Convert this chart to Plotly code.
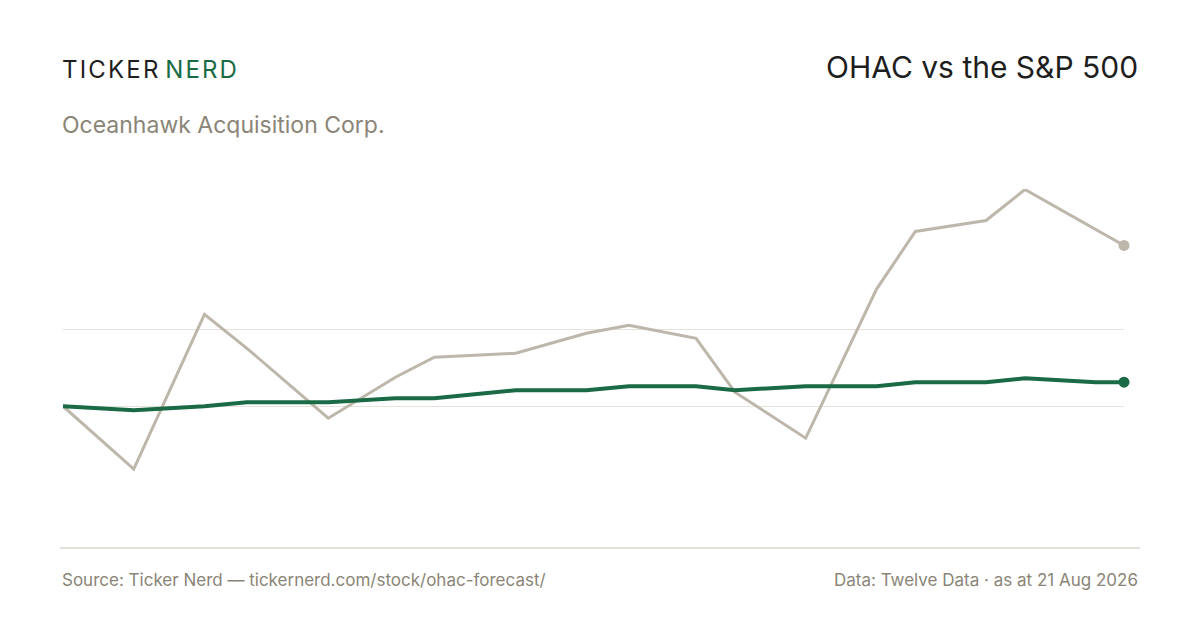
import plotly.graph_objects as go

# approximate day offsets and % returns
days = [0, 2, 4, 5.2, 7.5, 9.4, 10.5, 12.8, 14.8, 16, 17.9, 19, 21, 23, 24.1, 26.1, 27.2, 29.2, 30]
ohac = [0, -6.3, 9.2, 5.8, -1.2, 2.9, 4.9, 5.3, 7.3, 8.1, 6.8, 1.4, -3.2, 11.7, 17.5, 18.6, 21.7, 17.7, 16.1]
spx = [0, -0.4, 0, 0.4, 0.4, 0.8, 0.8, 1.6, 1.6, 2.0, 2.0, 1.6, 2.0, 2.0, 2.4, 2.4, 2.8, 2.4, 2.4]
grid_vals = [0, 7.7, 21.7]

GREEN = "#1a6b45"
GREY = "#bdb6aa"
FONT = "Inter, Roboto, sans-serif"

fig = go.Figure()
fig.add_trace(go.Scatter(x=days, y=ohac, mode="lines", line=dict(color=GREY, width=3),
                         cliponaxis=False, hoverinfo="skip"))
fig.add_trace(go.Scatter(x=[days[-1]], y=[ohac[-1]], mode="markers", marker=dict(color=GREY, size=11),
                         cliponaxis=False, hoverinfo="skip"))
fig.add_trace(go.Scatter(x=days, y=spx, mode="lines", line=dict(color=GREEN, width=4),
                         cliponaxis=False, hoverinfo="skip"))
fig.add_trace(go.Scatter(x=[days[-1]], y=[spx[-1]], mode="markers", marker=dict(color=GREEN, size=11),
                         cliponaxis=False, hoverinfo="skip"))

fig.update_layout(
    width=1200, height=630, showlegend=False,
    paper_bgcolor="white", plot_bgcolor="white",
    margin=dict(l=55, r=84, t=181, b=90),
    font=dict(family=FONT),
    xaxis=dict(range=[0, 30], visible=False),
    yaxis=dict(range=[-14.2, 21.75], tickvals=grid_vals, showticklabels=False,
               gridcolor="#e6e3dd", gridwidth=1, zeroline=False),
)
fig.add_shape(type="line", xref="paper", yref="paper", x0=-0.0028, x1=1.015, y0=0, y1=0,
              line=dict(color="#d8d4cc", width=1.5))

hs = "\u200a"
logo = hs.join("TICKER") + " " + "<span style='color:%s'>%s</span>" % (GREEN, hs.join("NERD"))
fig.add_annotation(text=logo, xref="paper", yref="paper",
                   x=-0.003, xanchor="left", y=(548 - 70) / 359, yanchor="middle",
                   showarrow=False, font=dict(size=24, color="#1e1e1e", family=FONT))
fig.add_annotation(text="OHAC vs the S&P 500", xref="paper", yref="paper",
                   x=1.015, xanchor="right", y=(548 - 67) / 359, yanchor="middle",
                   showarrow=False, font=dict(size=30, color="#1e1e1e", family=FONT))
fig.add_annotation(text="Oceanhawk Acquisition Corp.", xref="paper", yref="paper",
                   x=-0.003, xanchor="left", y=(548 - 125) / 359, yanchor="middle",
                   showarrow=False, font=dict(size=23, color="#8a8577", family=FONT))
fig.add_annotation(text="Source: Ticker Nerd — tickernerd.com/stock/ohac-forecast/", xref="paper", yref="paper",
                   x=-0.003, xanchor="left", y=(548 - 580) / 359, yanchor="middle",
                   showarrow=False, font=dict(size=17, color="#8a8577", family=FONT))
fig.add_annotation(text="Data: Twelve Data · as at 21 Aug 2026", xref="paper", yref="paper",
                   x=1.015, xanchor="right", y=(548 - 580) / 359, yanchor="middle",
                   showarrow=False, font=dict(size=17, color="#8a8577", family=FONT))

fig.write_html("out.html")
